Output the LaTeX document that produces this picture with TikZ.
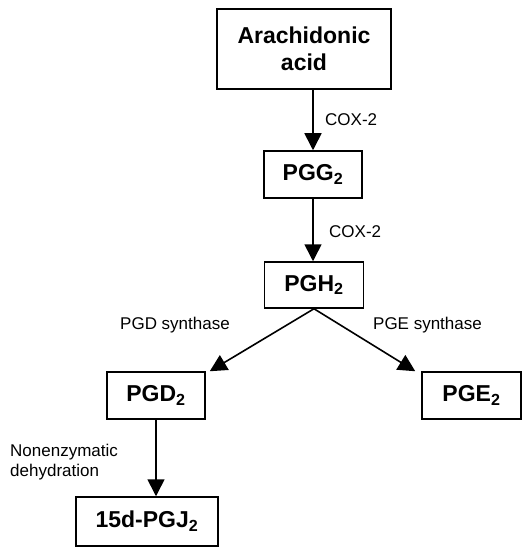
\documentclass[tikz,border=0pt]{standalone}
\usepackage{fontspec}
\setmainfont{Liberation Sans}
\usetikzlibrary{arrows.meta}
\begin{document}
\begin{tikzpicture}[x=1pt,y=-1pt,
  compound/.style={draw=black,line width=1.5pt,rectangle,inner sep=0pt,
    font=\fontsize{23}{27}\selectfont\bfseries,align=center},
  enzyme/.style={inner sep=0pt,font=\fontsize{17}{20}\selectfont},
  conv/.style={line width=1.6pt,-{Triangle[width=17pt,length=17pt]}}]
\useasboundingbox (0,0) rectangle (529,556);
\node[compound,minimum width=174pt,minimum height=80pt] (aa) at (304,49) {Arachidonic\\acid};
\node[compound,minimum width=98pt,minimum height=47pt] (pgg) at (313,174.5) {PGG\textsubscript{2}};
\node[compound,minimum width=99pt,minimum height=46pt] (pgh) at (314,285) {PGH\textsubscript{2}};
\node[compound,minimum width=98pt,minimum height=47pt] (pgd) at (156,395.5) {PGD\textsubscript{2}};
\node[compound,minimum width=99pt,minimum height=47pt] (pge) at (471.5,395.5) {PGE\textsubscript{2}};
\node[compound,minimum width=142pt,minimum height=49pt] (pgj) at (147,521.5) {15d-PGJ\textsubscript{2}};
\node[enzyme,anchor=west] (c1) at (325,120) {COX-2};
\node[enzyme,anchor=west] (c2) at (329,232) {COX-2};
\node[enzyme] (pgds) at (175,325) {PGD synthase};
\node[enzyme] (pges) at (427.5,325) {PGE synthase};
\node[enzyme,anchor=west,align=left] (ned) at (10,462) {Nonenzymatic\\dehydration};
\draw[conv] (aa.south -| pgg.north) -- (pgg.north);
\draw[conv] (pgg.south) -- (pgg.south |- pgh.north);
\draw[conv] (pgh.south) -- ([xshift=4pt]pgd.north east);
\draw[conv] (pgh.south) -- ([xshift=-6pt]pge.north west);
\draw[conv] (pgd.south) -- (pgd.south |- pgj.north);
\end{tikzpicture}
\end{document}
